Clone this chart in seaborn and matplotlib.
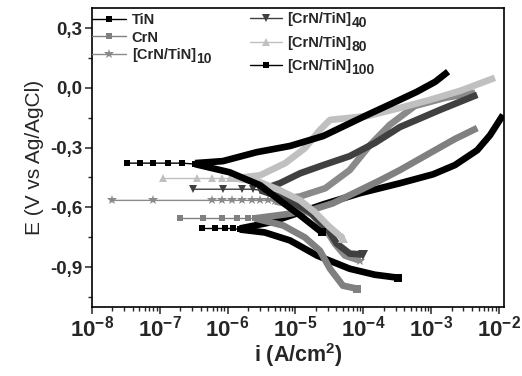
import numpy as np
import pandas as pd
import matplotlib
matplotlib.use("Agg")
import matplotlib.pyplot as plt
import seaborn as sns
from matplotlib.lines import Line2D
from matplotlib.ticker import FixedLocator, FuncFormatter, LogLocator, NullFormatter

sns.set_theme(style="ticks")
plt.rcParams["font.family"] = ["Liberation Sans", "DejaVu Sans"]
plt.rcParams["mathtext.fontset"] = "custom"
plt.rcParams["mathtext.rm"] = "Liberation Sans:bold"
plt.rcParams["mathtext.bf"] = "Liberation Sans:bold"
plt.rcParams["mathtext.it"] = "Liberation Sans:bold"

# log10(i) and E values
# TiN
tin_pts_logi = [-6.38, -6.19, -6.04, -5.92]
tin_pts_e = [-0.706, -0.706, -0.706, -0.706]
tin_cath_logi = [-5.82, -5.45, -5.08, -4.68, -4.20, -3.83, -3.49]
tin_cath_e = [-0.711, -0.726, -0.766, -0.842, -0.908, -0.938, -0.953]
tin_an_logi = [-5.82, -5.38, -4.93, -4.59, -4.05, -3.46, -2.97, -2.65, -2.32, -2.13, -1.94]
tin_an_e = [-0.706, -0.676, -0.625, -0.585, -0.529, -0.479, -0.434, -0.388, -0.313, -0.237, -0.136]

# CrN
crn_pts_logi = [-6.70, -6.36, -6.08, -5.86, -5.70]
crn_pts_e = [-0.655, -0.655, -0.655, -0.655, -0.655]
crn_cath_logi = [-5.60, -5.18, -4.86, -4.64, -4.49, -4.30, -4.09]
crn_cath_e = [-0.655, -0.691, -0.751, -0.817, -0.908, -0.993, -1.008]
crn_an_logi = [-5.60, -5.15, -4.78, -4.45, -4.05, -3.75, -3.46, -3.02, -2.65, -2.32]
crn_an_e = [-0.655, -0.635, -0.615, -0.580, -0.514, -0.464, -0.413, -0.328, -0.257, -0.202]

# [CrN/TiN]10
m10_pts_logi = [-7.71, -7.10, -6.23, -6.08, -5.94, -5.79, -5.64, -5.52, -5.40]
m10_pts_e = [-0.565, -0.565, -0.565, -0.565, -0.565, -0.565, -0.565, -0.565, -0.565]
m10_cath_logi = [-5.30, -5.01, -4.76, -4.56, -4.42, -4.27, -4.05]
m10_cath_e = [-0.570, -0.590, -0.635, -0.706, -0.782, -0.842, -0.867]
m10_an_logi = [-5.30, -4.93, -4.56, -4.20, -3.90, -3.61, -3.24, -2.79, -2.35]
m10_an_e = [-0.565, -0.545, -0.504, -0.413, -0.287, -0.186, -0.091, -0.050, -0.025]

# [CrN/TiN]40
m40_pts_logi = [-6.51, -6.07, -5.79, -5.63]
m40_pts_e = [-0.509, -0.509, -0.509, -0.509]
m40_cath_logi = [-5.52, -5.08, -4.78, -4.53, -4.39, -4.20, -4.00]
m40_cath_e = [-0.514, -0.565, -0.625, -0.706, -0.782, -0.832, -0.837]
m40_an_logi = [-5.52, -5.23, -4.93, -4.59, -4.20, -3.83, -3.46, -2.87, -2.32]
m40_an_e = [-0.514, -0.479, -0.429, -0.388, -0.343, -0.277, -0.197, -0.111, -0.035]

# [CrN/TiN]80
m80_pts_logi = [-6.95, -6.45, -6.23, -6.08, -5.96]
m80_pts_e = [-0.454, -0.454, -0.454, -0.454, -0.454]
m80_cath_logi = [-5.89, -5.52, -5.23, -4.93, -4.71, -4.52, -4.30]
m80_cath_e = [-0.454, -0.474, -0.514, -0.565, -0.625, -0.691, -0.756]
m80_an_logi = [-5.89, -5.52, -5.15, -4.86, -4.64, -4.49, -4.20, -3.93, -3.46, -3.02, -2.57, -2.06]
m80_an_e = [-0.454, -0.439, -0.378, -0.303, -0.212, -0.161, -0.151, -0.141, -0.101, -0.061, -0.015, 0.050]

# [CrN/TiN]100
m100_pts_logi = [-7.48, -7.29, -7.10, -6.88, -6.67]
m100_pts_e = [-0.378, -0.378, -0.378, -0.378, -0.378]
m100_cath_logi = [-6.48, -5.97, -5.52, -5.23, -4.93, -4.61]
m100_cath_e = [-0.383, -0.424, -0.489, -0.565, -0.640, -0.726]
m100_an_logi = [-6.48, -6.07, -5.57, -5.08, -4.59, -3.94, -3.56, -3.21, -2.94, -2.75]
m100_an_e = [-0.378, -0.368, -0.323, -0.292, -0.242, -0.136, -0.076, -0.020, 0.030, 0.081]

names = ["TiN", "CrN", "[CrN/TiN]", "[CrN/TiN]", "[CrN/TiN]", "[CrN/TiN]"]
subs = ["", "", "10", "40", "80", "100"]
colors = ["#000000", "#808080", "#8a8a8a", "#404040", "#c0c0c0", "#000000"]
markers = ["s", "s", "*", "v", "^", "s"]
msizes = [4.5, 5, 7, 6, 6, 5]

series = [
    (tin_pts_logi, tin_pts_e, tin_cath_logi, tin_cath_e, tin_an_logi, tin_an_e),
    (crn_pts_logi, crn_pts_e, crn_cath_logi, crn_cath_e, crn_an_logi, crn_an_e),
    (m10_pts_logi, m10_pts_e, m10_cath_logi, m10_cath_e, m10_an_logi, m10_an_e),
    (m40_pts_logi, m40_pts_e, m40_cath_logi, m40_cath_e, m40_an_logi, m40_an_e),
    (m80_pts_logi, m80_pts_e, m80_cath_logi, m80_cath_e, m80_an_logi, m80_an_e),
    (m100_pts_logi, m100_pts_e, m100_cath_logi, m100_cath_e, m100_an_logi, m100_an_e),
]

fig = plt.figure(figsize=(5.22, 3.76), dpi=100)
ax = fig.add_axes([0.176, 0.1835, 0.7895, 0.795])
ax.set_xscale("log")

for (pl, pe, cl, ce, al, ae), col, mk, ms in zip(series, colors, markers, msizes):
    # sparse points near Ecorr, connected by a thin line
    sx = 10.0 ** np.array(pl + [cl[0]])
    sy = np.array(pe + [ce[0]])
    sns.lineplot(x=sx, y=sy, sort=False, estimator=None, color=col, lw=1.0,
                 marker=mk, markersize=ms, markeredgewidth=0, ax=ax)
    # dense branches appear as thick bands
    for bl, be in ((cl, ce), (al, ae)):
        sns.lineplot(x=10.0 ** np.array(bl), y=np.array(be), sort=False,
                     estimator=None, color=col, lw=4.8, ax=ax,
                     solid_capstyle="butt", solid_joinstyle="round")
    ax.plot(10.0 ** cl[-1], ce[-1], marker=mk, color=col, markersize=ms + 1,
            markeredgewidth=0)

ax.set_xlim(1e-8, 10 ** -1.926)
ax.set_ylim(-1.1, 0.4)

ax.xaxis.set_major_locator(FixedLocator([1e-8, 1e-7, 1e-6, 1e-5, 1e-4, 1e-3, 1e-2]))
ax.xaxis.set_major_formatter(FuncFormatter(
    lambda v, p: r"$\mathbf{10^{%d}}$" % int(round(np.log10(v)))))
ax.xaxis.set_minor_locator(LogLocator(base=10, subs=np.arange(2, 10), numticks=20))
ax.xaxis.set_minor_formatter(NullFormatter())

ax.yaxis.set_major_locator(FixedLocator([-0.9, -0.6, -0.3, 0.0, 0.3]))
ax.yaxis.set_minor_locator(FixedLocator([-1.05, -0.75, -0.45, -0.15, 0.15]))
ax.yaxis.set_major_formatter(FuncFormatter(
    lambda v, p: f"{v:.1f}".replace(".", ",").replace("-0,0", "0,0")))

ax.tick_params(axis="both", which="major", direction="out", length=5, width=1.1,
               top=False, right=False, pad=2)
ax.tick_params(axis="both", which="minor", direction="out", length=3, width=1.0,
               top=False, right=False)
ax.tick_params(axis="x", labelsize=16, pad=1)
ax.tick_params(axis="y", labelsize=13.5)
for lab in ax.get_yticklabels():
    lab.set_fontweight("bold")
for s in ax.spines.values():
    s.set_linewidth(1.2)
    s.set_color("black")
    s.set_visible(True)

ax.set_xlabel(r"i (A/cm$^{\mathbf{2}}$)", fontsize=15.5, fontweight="bold", labelpad=0)
ax.set_ylabel("E (V vs Ag/AgCl)", fontsize=15, labelpad=4)

handles = [Line2D([], [], color=c, lw=1.0, marker=m, markersize=s, markeredgewidth=0)
           for c, m, s in zip(colors, markers, msizes)]
leg1 = ax.legend(handles[:3], names[:3], loc="upper left", bbox_to_anchor=(-0.02, 1.013),
                 frameon=False, prop={"weight": "bold", "size": 10.5},
                 handlelength=2.3, handletextpad=0.4, labelspacing=0.25,
                 borderaxespad=0.2)
ax.add_artist(leg1)
leg2 = ax.legend(handles[3:], names[3:], loc="upper left", bbox_to_anchor=(0.363, 1.015),
                 frameon=False, prop={"weight": "bold", "size": 10.5},
                 handlelength=2.2, handletextpad=0.3, labelspacing=0.65,
                 borderaxespad=0.2)

# subscripts at nearly full size, as in the source figure
fig.canvas.draw()
W, H = fig.bbox.width, fig.bbox.height
for txt, sub in zip(list(leg1.get_texts()) + list(leg2.get_texts()), subs):
    if sub:
        bb = txt.get_window_extent()
        fig.text((bb.x1 + 0.5) / W, (bb.y0 - 4) / H, sub, fontsize=10,
                 fontweight="bold", ha="left", va="bottom")

fig.savefig("out.png", dpi=100)
